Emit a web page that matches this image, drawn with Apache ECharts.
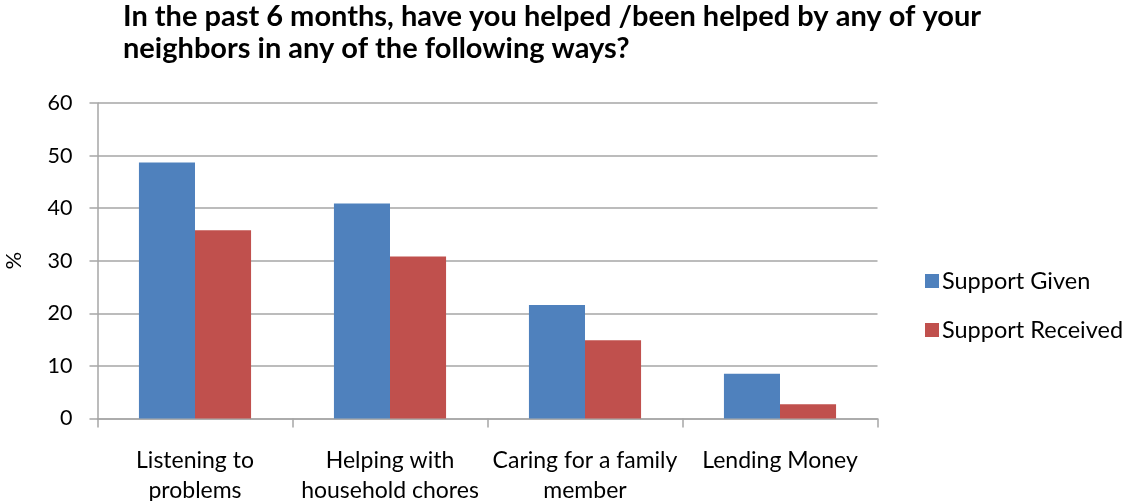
<!DOCTYPE html>
<html>
<head>
<meta charset="utf-8">
<script src="https://cdn.jsdelivr.net/npm/echarts@6/dist/echarts.min.js"></script>
<style>
  html, body { margin: 0; padding: 0; background: #fff; }
  #chart { width: 1127px; height: 501px; }
</style>
</head>
<body>
<div id="chart"></div>
<script>
// categories and values
var categories = ['Listening to\nproblems', 'Helping with\nhousehold chores', 'Caring for a family\nmember', 'Lending Money'];
var supportGiven = [48.7, 40.9, 21.6, 8.5];
var supportReceived = [35.8, 30.8, 14.9, 2.7];
var yTicks = [0, 10, 20, 30, 40, 50, 60];

var axisColor = '#a6a6a6';
var labelFont = 'Lato, "Open Sans", sans-serif';

var myChart = echarts.init(document.getElementById('chart'));
var option = {
    animation: false,
    color: ['#4f81bd', '#c0504d'],
    title: {
        text: 'In the past 6 months, have you helped /been helped by any of your\nneighbors in any of the following ways?',
        left: 123,
        top: 1,
        padding: 0,
        textStyle: {
            fontFamily: labelFont,
            fontWeight: 'bold',
            fontSize: 29,
            lineHeight: 32,
            color: '#000'
        }
    },
    legend: {
        orient: 'vertical',
        left: 920,
        top: 264,
        itemWidth: 14,
        itemHeight: 14,
        itemGap: 25,
        icon: 'rect',
        data: ['Support Given', 'Support Received'],
        textStyle: { fontFamily: labelFont, fontSize: 23.5, color: '#000', padding: [0, 0, 0, -2] }
    },
    grid: {
        left: 97.5,
        width: 780,
        top: 103,
        height: 315.5,
        outerBoundsMode: 'none',
        containLabel: false
    },
    xAxis: {
        type: 'category',
        data: categories,
        axisLine: { lineStyle: { color: axisColor, width: 1.5 } },
        axisTick: { show: true, length: 9, lineStyle: { color: axisColor, width: 1.5 } },
        axisLabel: {
            fontFamily: labelFont,
            fontSize: 23,
            color: '#000',
            margin: 27,
            lineHeight: 30,
            interval: 0
        }
    },
    yAxis: {
        type: 'value',
        name: '%',
        nameLocation: 'middle',
        nameGap: 73,
        nameRotate: 90,
        nameTextStyle: { fontFamily: labelFont, fontSize: 22, color: '#000' },
        min: yTicks[0],
        max: yTicks[yTicks.length - 1],
        interval: 10,
        axisLine: { show: true, lineStyle: { color: axisColor, width: 1.5 } },
        axisTick: { show: true, length: 8, lineStyle: { color: axisColor, width: 1.5 } },
        splitLine: { show: true, lineStyle: { color: axisColor, width: 1.5 } },
        axisLabel: {
            fontFamily: labelFont,
            fontSize: 21.5,
            color: '#000',
            margin: 25
        }
    },
    series: [
        {
            name: 'Support Given',
            type: 'bar',
            barGap: '0%',
            barCategoryGap: '42.5%',
            data: supportGiven
        },
        {
            name: 'Support Received',
            type: 'bar',
            barGap: '0%',
            barCategoryGap: '42.5%',
            data: supportReceived
        }
    ]
};
myChart.setOption(option);
</script>
</body>
</html>
